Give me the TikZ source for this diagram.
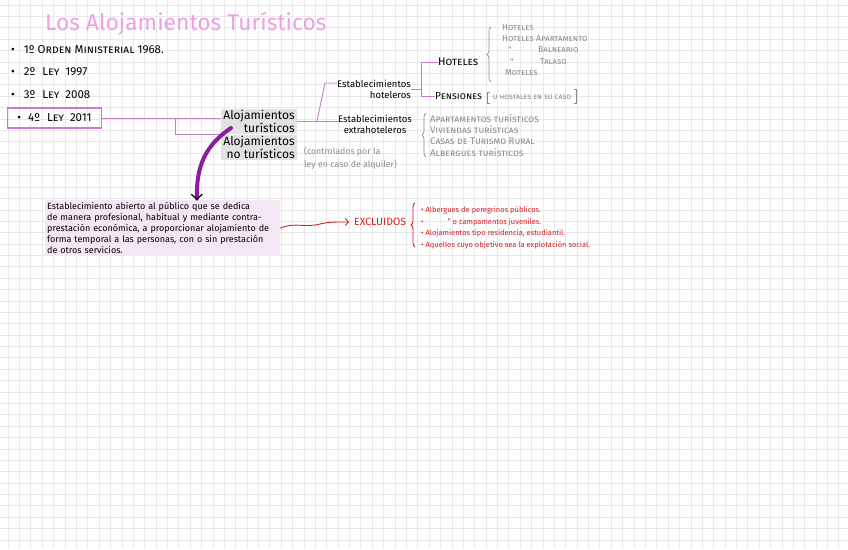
\documentclass[tikz,border=0pt]{standalone}
\usepackage{fontspec}
\setmainfont{Fira Sans}
\usetikzlibrary{arrows.meta,positioning,calc,decorations.pathreplacing}
\definecolor{lila}{RGB}{198,126,204}
\definecolor{violeta}{RGB}{138,30,156}
\definecolor{rosa}{RGB}{238,160,226}
\definecolor{gris}{RGB}{138,138,138}
\definecolor{rojo}{RGB}{212,30,36}
\definecolor{cuadro}{RGB}{226,226,226}
\definecolor{malva}{RGB}{243,231,243}
\definecolor{rejilla}{RGB}{233,233,233}
\begin{document}
\begin{tikzpicture}[x=1pt,y=-1pt,>=Stealth,inner sep=0pt]
\tikzstyle{tree}=[draw=lila,line width=0.9pt]
\tikzstyle{sc}=[font=\fontsize{11.5}{12}\selectfont\scshape,anchor=west]
\tikzstyle{cat}=[font=\fontsize{9.5}{11}\selectfont,align=right,anchor=east]
\tikzstyle{graybox}=[fill=cuadro,font=\fontsize{12}{12}\selectfont,align=right,inner xsep=2pt,inner ysep=1.5pt]
\tikzstyle{gl}=[text=gris,font=\fontsize{8.7}{9}\selectfont\scshape,anchor=west]
\tikzstyle{rl}=[text=rojo,font=\fontsize{7.5}{8}\selectfont,anchor=west]
\tikzstyle{brace}=[decorate,decoration={brace,amplitude=4pt},line width=0.7pt]
\useasboundingbox (0,0) rectangle (848,549);
\fill[white] (0,0) rectangle (848,549);
\foreach \i in {0,...,74} \draw[rejilla,line width=0.6pt] (8+\i*11.38,0) -- (8+\i*11.38,549);
\foreach \j in {0,...,47} \draw[rejilla,line width=0.6pt] (0,5+\j*11.38) -- (848,5+\j*11.38);
% title and laws
\node[text=rosa,font=\fontsize{22.8}{24}\selectfont,anchor=west] (title) at (45,24) {Los Alojamientos Turísticos};
\node[sc] (l1) at (11,50) {•\hspace{9pt}1º Orden Ministerial 1968.};
\node[sc] (l2) at (11,72) {•\hspace{9pt}2º\hspace{4pt} Ley\hspace{3pt} 1997};
\node[sc] (l3) at (11,95) {•\hspace{9pt}3º\hspace{4pt} Ley\hspace{3pt} 2008};
\node[sc,draw=lila,line width=1.1pt,minimum width=94,minimum height=20] (l4) at (7,118) {•\hspace{7pt}4º\hspace{4pt} Ley\hspace{3pt} 2011};
% alojamientos
\node[graybox] (turis) at (259,121.5) {Alojamientos\\turísticos};
\node[graybox,anchor=north west] (noturis) at (turis.south west) {Alojamientos\\no turísticos};
\coordinate (split) at (175,118);
\draw[tree] (l4.east) -- (l4.east -| turis.west);
\draw[tree] (split) |- (noturis.north west);
\node[text=gris,font=\fontsize{8.8}{12.5}\selectfont,align=left,anchor=west] (nota) at (304,158) {(controlados por la\\ley en caso de alquiler)};
% establecimientos
\node[cat] (hot) at (411,89) {Establecimientos\\hoteleros};
\node[cat,align=center] (extra) at (412,124.5) {Establecimientos\\extrahoteleros};
\coordinate (t1) at (317,121);
\coordinate (t2) at (325,83);
\draw[tree] (turis.east |- t1) -- (t1 -| extra.west);
\draw[tree] (t1) -- (t2) -- (t2 -| hot.west);
\node[sc,font=\fontsize{11}{12}\selectfont\scshape] (hoteles) at (438,62) {Hoteles};
\node[sc,font=\fontsize{10}{12}\selectfont\scshape] (pens) at (435,96) {Pensiones};
\coordinate (bv) at (421.5,0);
\draw[tree] (hoteles.west) -- (hoteles.west -| bv) -- (pens.west -| bv) -- (pens.west);
\draw[tree] (hot.east) -- (hot.east -| bv);
% hoteles list
\draw[gris,brace] (491,82) -- (491,27);
\node[gl] (h1) at (502,28) {Hoteles};
\node[gl] (h2) at (502,39) {Hoteles Apartamento};
\node[gl] (h3a) at (508,50) {''};
\node[gl] (h3) at (538,50) {Balneario};
\node[gl] (h4a) at (510,62) {''};
\node[gl] (h4) at (540,62) {Talaso};
\node[gl] (h5) at (505,73) {Moteles};
\node[gl,font=\fontsize{7.8}{8}\selectfont\scshape,anchor=center] (host) at (532,97) {u hostales en su caso};
\draw[gris,line width=0.7pt] ($(host.west)+(-3,-5)$) -- ++(-2,0) -- ++(0,11) -- ++(2,0);
\draw[gris,line width=0.7pt] ($(host.east)+(3,-8)$) -- ++(2,0) -- ++(0,14) -- ++(-2,0);
% extrahoteleros list
\draw[gris,brace] (426,157) -- (426,113);
\foreach \k/\t [count=\n] in {119/Apartamentos turísticos,130/Viviendas turísticas,141/Casas de Turismo Rural,153/Albergues turísticos} \node[gl,font=\fontsize{9.6}{10}\selectfont\scshape] (e\n) at (430,\k) {\t};
% definition
\node[fill=malva,text width=231,inner xsep=2pt,inner ysep=2pt,align=left,font=\fontsize{9}{11}\selectfont,anchor=north west] (def) at (45,200) {Establecimiento abierto al público que se dedica\\de manera profesional, habitual y mediante contra-\\prestación económica, a proporcionar alojamiento de\\forma temporal a las personas, con o sin prestación\\de otros servicios.};
\coordinate (arrstart) at (231,128);
\coordinate (arrend) at (197,200);
\draw[violeta,line width=4pt,line cap=round,-{Straight Barb[length=5pt,width=11pt,black,line width=1.2pt]}] (arrstart) .. controls (206,145) and (196,165) .. (arrend);
% excluidos
\node[text=rojo,font=\fontsize{10.5}{11}\selectfont,anchor=west] (excl) at (354,222) {EXCLUIDOS};
\draw[rojo,line width=0.9pt,-{Straight Barb[length=3pt,width=7pt]}] (def.east |- 0,228) .. controls (295,222) and (305,228) .. (320,224) .. controls (330,222) .. ([xshift=-5pt]excl.west);
\draw[rojo,brace,line width=0.9pt] (415,247) -- (415,203);
\node[rl] (r1) at (421,210) {• Albergues de peregrinos públicos.};
\node[rl] (r2) at (421,222) {•\hspace{24pt}'' o campamentos juveniles.};
\node[rl] (r3) at (421,233) {• Alojamientos tipo residencia, estudiantil.};
\node[rl] (r4) at (421,245) {• Aquellos cuyo objetivo sea la explotación social.};
\end{tikzpicture}
\end{document}
